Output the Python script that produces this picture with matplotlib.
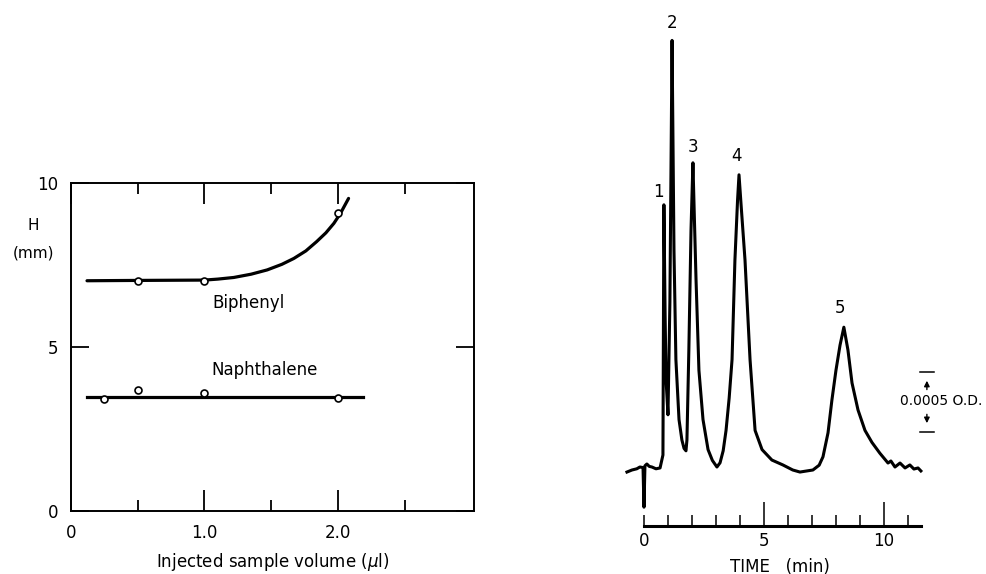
import numpy as np
import matplotlib.pyplot as plt
from matplotlib.ticker import FixedLocator

# --- left panel: plate height vs injected volume ---
biph_x = [0.5, 1.0, 2.0]
biph_h = [7.0, 7.0, 9.08]
biph_curve_x = [0.12, 0.5, 1.0, 1.1, 1.22, 1.35, 1.47, 1.58, 1.67, 1.76, 1.84, 1.91,
                1.97, 2.02, 2.08]
biph_curve_h = [7.02, 7.03, 7.04, 7.07, 7.12, 7.22, 7.35, 7.52, 7.70, 7.93, 8.21, 8.48,
                8.77, 9.08, 9.53]

naph_x = [0.25, 0.5, 1.0, 2.0]
naph_h = [3.42, 3.69, 3.61, 3.46]
naph_line_x = [0.12, 2.19]
naph_line_h = [3.48, 3.48]

# --- right panel: chromatogram (time in min, signal in 1e-4 O.D.) ---
trace_t = [-0.71, -0.5, -0.3, -0.17, -0.04, 0.0, 0.04, 0.12, 0.22, 0.33, 0.5, 0.67,
           0.79, 0.83, 0.88, 0.92, 1.0, 1.08, 1.17, 1.21, 1.25, 1.33, 1.46, 1.58, 1.67,
           1.75, 1.79, 1.87, 1.96, 2.04, 2.1, 2.17, 2.29, 2.46, 2.67, 2.85, 3.04, 3.17,
           3.3, 3.42, 3.55, 3.67, 3.79, 3.9, 3.96, 4.05, 4.21, 4.42, 4.63, 4.92, 5.33,
           5.79, 6.2, 6.5, 7.04, 7.3, 7.46, 7.67, 7.83, 8.0, 8.17, 8.33, 8.5, 8.67,
           8.92, 9.21, 9.5, 9.83, 10.17, 10.29, 10.46, 10.67, 10.88, 11.08, 11.25,
           11.42, 11.54]
trace_s = [-0.17, 0.0, 0.1, 0.25, 0.2, -3.1, 0.35, 0.5, 0.3, 0.25, 0.1, 0.17,
           1.25, 22.1, 13.0, 7.5, 4.6, 14.0, 35.8, 27.0, 18.3, 9.2, 4.2, 2.5, 1.8,
           1.6, 2.5, 10.0, 20.0, 25.6, 21.0, 15.8, 8.3, 4.2, 1.7, 0.8, 0.25, 0.6,
           1.6, 3.3, 6.0, 9.2, 17.5, 22.5, 24.6, 22.0, 17.5, 9.2, 3.3, 1.7, 0.83,
           0.42, 0.0, -0.17, 0.0, 0.4, 1.1, 3.1, 5.8, 8.3, 10.4, 11.9, 10.0, 7.25,
           5.0, 3.3, 2.3, 1.4, 0.58, 0.75, 0.25, 0.58, 0.17, 0.42, 0.08, 0.17, -0.08]

peak_labels = ['1', '2', '3', '4', '5']
peak_t = [0.83, 1.17, 2.04, 3.96, 8.33]
peak_s = [22.1, 35.8, 25.6, 24.6, 11.9]

scale_bar = 5.0  # 0.0005 O.D. in 1e-4 units

plt.rcParams['font.family'] = 'DejaVu Sans'
fig = plt.figure(figsize=(9.86, 5.74), dpi=100)

# left panel
ax1 = fig.add_axes([71 / 986, 63 / 574, 403 / 986, 328 / 574])
ax1.plot(biph_curve_x, biph_curve_h, color='black', lw=2.3, solid_capstyle='round',
         solid_joinstyle='round')
ax1.plot(naph_line_x, naph_line_h, color='black', lw=2.3)
ax1.plot(biph_x, biph_h, 'o', ms=5, mfc='white', mec='black', mew=1.2)
ax1.plot(naph_x, naph_h, 'o', ms=5, mfc='white', mec='black', mew=1.2)
ax1.set_xlim(0, 3.02)
ax1.set_ylim(0, 10)
ax1.xaxis.set_major_locator(FixedLocator([0, 1, 2]))
ax1.xaxis.set_minor_locator(FixedLocator([0.5, 1.5, 2.5]))
ax1.set_xticklabels(['0', '1.0', '2.0'])
ax1.set_yticks([0, 5, 10])
ax1.set_yticklabels(['0', '5', '10'])
ax1.tick_params(which='both', direction='in', top=True, right=True, width=1.3,
                labelsize=12, pad=9)
ax1.tick_params(axis='x', which='major', length=15)
ax1.tick_params(axis='x', which='minor', length=8)
ax1.tick_params(axis='y', which='major', length=13)
for sp in ax1.spines.values():
    sp.set_linewidth(1.4)
ax1.text(1.33, 6.34, 'Biphenyl', ha='center', va='center', fontsize=12)
ax1.text(1.45, 4.3, 'Naphthalene', ha='center', va='center', fontsize=12)
ax1.set_xlabel('Injected sample volume ($\\mu$l)', fontsize=12, labelpad=7)
fig.text(33 / 986, 1 - 225 / 574, 'H', ha='center', va='center', fontsize=11)
fig.text(33 / 986, 1 - 253 / 574, '(mm)', ha='center', va='center', fontsize=11)

# right panel
ax2 = fig.add_axes([600 / 986, 48 / 574, 360 / 986, 506 / 574])
ax2.plot(trace_t, trace_s, color='black', lw=2.2, solid_joinstyle='round')
ax2.set_xlim(-1.833, 13.17)
ax2.set_ylim(-4.667, 37.5)
for side in ['left', 'top', 'right']:
    ax2.spines[side].set_visible(False)
ax2.spines['bottom'].set_bounds(0, 11.54)
ax2.spines['bottom'].set_linewidth(2.2)
ax2.set_yticks([])
ax2.xaxis.set_major_locator(FixedLocator([0, 5, 10]))
ax2.xaxis.set_minor_locator(FixedLocator(list(range(1, 12))))
ax2.set_xticklabels(['0', '5', '10'])
ax2.tick_params(axis='x', which='major', direction='in', length=17, width=1.1,
                labelsize=12, pad=4)
ax2.tick_params(axis='x', which='minor', direction='in', length=8, width=1.1)
ax2.xaxis.get_major_ticks()[0].tick1line.set_markersize(8)
ax2.set_xlabel('TIME   (min)', fontsize=12, labelpad=6)

label_offsets = [(-4, 3), (0, 6), (0, 5), (-2, 7), (-3, 7)]
for lab, t, s, off in zip(peak_labels, peak_t, peak_s, label_offsets):
    ax2.annotate(lab, (t, s), xytext=off, textcoords='offset points',
                 ha='center', va='bottom', fontsize=12)

# 0.0005 O.D. scale bar
bx = 11.79
b0 = 3.17
ax2.plot([bx - 0.3, bx + 0.3], [b0, b0], color='black', lw=1.1)
ax2.plot([bx - 0.3, bx + 0.3], [b0 + scale_bar, b0 + scale_bar], color='black', lw=1.1)
mid = b0 + scale_bar / 2
ax2.annotate('', xy=(bx, b0 + scale_bar - 0.5), xytext=(bx, mid + 0.8),
             arrowprops=dict(arrowstyle='-|>', color='black', lw=1.0, mutation_scale=8))
ax2.annotate('', xy=(bx, b0 + 0.5), xytext=(bx, mid - 0.8),
             arrowprops=dict(arrowstyle='-|>', color='black', lw=1.0, mutation_scale=8))
ax2.text(bx + 0.6, mid + 0.08, '0.0005 O.D.', ha='center', va='center', fontsize=10,
         clip_on=False)

fig.savefig('out.png', dpi=100)
